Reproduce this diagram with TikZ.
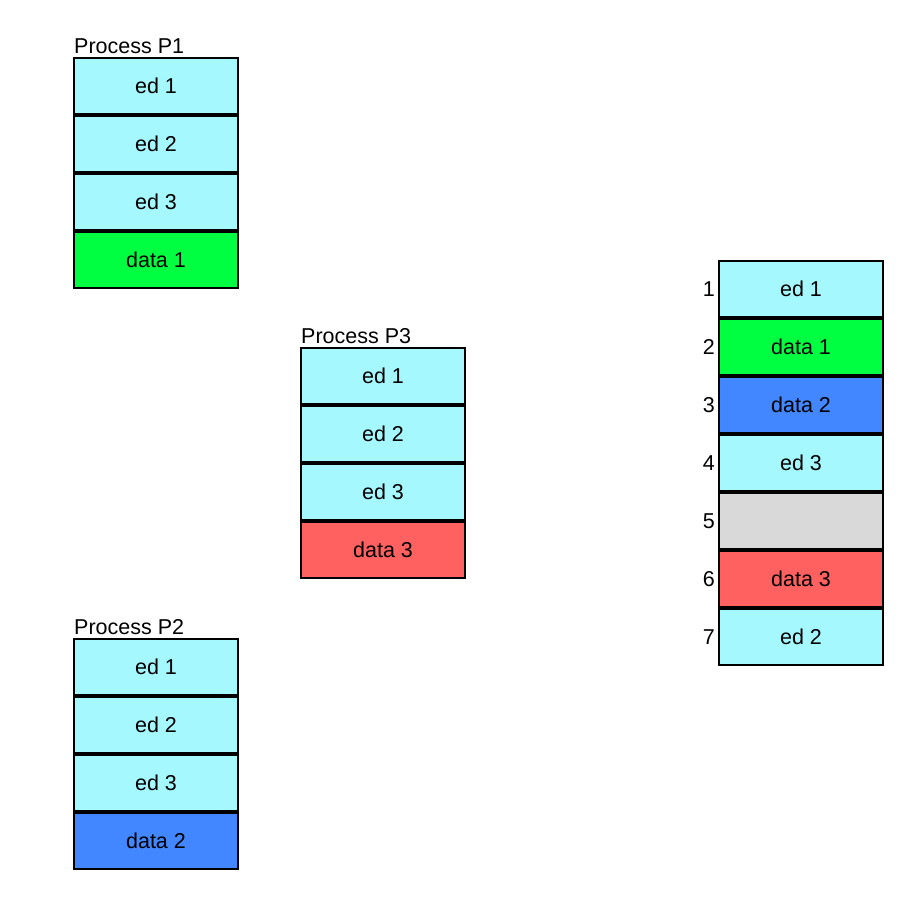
\documentclass[tikz,border=0pt]{standalone}
\usepackage{fontspec}
\setmainfont{Liberation Sans}
\usetikzlibrary{positioning}
\definecolor{edcyan}{HTML}{A6F8FF}
\definecolor{datagreen}{HTML}{00FF40}
\definecolor{datablue}{HTML}{4287FF}
\definecolor{datared}{HTML}{FF6060}
\definecolor{freegray}{HTML}{D9D9D9}
\tikzset{font=\fontsize{21.5}{25}\selectfont}

\begin{document}
\begin{tikzpicture}[x=1pt, y=-1pt,
	cell/.style={draw=black, line width=1.8pt, minimum width=164pt, minimum height=56pt, inner sep=0pt, outer sep=0pt},
	ed/.style={cell, fill=edcyan},
	title/.style={anchor=south west, inner xsep=0pt, inner ysep=4pt},
	idx/.style={anchor=east, inner sep=1pt}]
	\useasboundingbox (0,0) rectangle (918,907);

	% process P1
	\node[ed] (p1e1) at (156,86) {ed 1};
	\node[ed, below=2pt of p1e1] (p1e2) {ed 2};
	\node[ed, below=2pt of p1e2] (p1e3) {ed 3};
	\node[cell, fill=datagreen, below=2pt of p1e3] (p1d1) {data 1};
	\node[title] (p1) at (p1e1.north west) {Process P1};

	% process P3
	\node[ed] (p3e1) at (383,376) {ed 1};
	\node[ed, below=2pt of p3e1] (p3e2) {ed 2};
	\node[ed, below=2pt of p3e2] (p3e3) {ed 3};
	\node[cell, fill=datared, below=2pt of p3e3] (p3d3) {data 3};
	\node[title] (p3) at (p3e1.north west) {Process P3};

	% process P2
	\node[ed] (p2e1) at (156,667) {ed 1};
	\node[ed, below=2pt of p2e1] (p2e2) {ed 2};
	\node[ed, below=2pt of p2e2] (p2e3) {ed 3};
	\node[cell, fill=datablue, below=2pt of p2e3] (p2d2) {data 2};
	\node[title] (p2) at (p2e1.north west) {Process P2};

	% file blocks
	\node[ed] (b1) at (801,289) {ed 1};
	\node[cell, fill=datagreen, below=2pt of b1] (b2) {data 1};
	\node[cell, fill=datablue, below=2pt of b2] (b3) {data 2};
	\node[ed, below=2pt of b3] (b4) {ed 3};
	\node[cell, fill=freegray, below=2pt of b4] (b5) {};
	\node[cell, fill=datared, below=2pt of b5] (b6) {data 3};
	\node[ed, below=2pt of b6] (b7) {ed 2};
	\node[idx, left=3pt of b1] (n1) {1};
	\node[idx, left=3pt of b2] (n2) {2};
	\node[idx, left=3pt of b3] (n3) {3};
	\node[idx, left=3pt of b4] (n4) {4};
	\node[idx, left=3pt of b5] (n5) {5};
	\node[idx, left=3pt of b6] (n6) {6};
	\node[idx, left=3pt of b7] (n7) {7};
\end{tikzpicture}
\end{document}
